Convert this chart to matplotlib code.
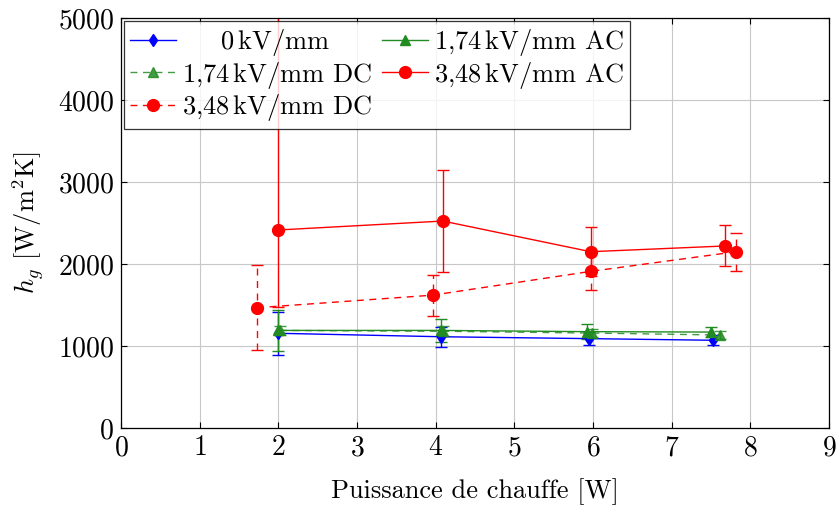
import numpy as np
import matplotlib
matplotlib.use("Agg")
import matplotlib.pyplot as plt

plt.rcParams['font.family'] = 'serif'
plt.rcParams['font.serif'] = ['cmr10']
plt.rcParams['mathtext.fontset'] = 'cm'
plt.rcParams['axes.formatter.use_mathtext'] = True

# data
x_0 = [2.0, 4.07, 5.95, 7.52]
y_0 = [1155, 1113, 1090, 1070]
e_0 = [260, 120, 80, 60]

x_ac174 = [2.0, 4.07, 5.92, 7.5]
y_ac174 = [1190, 1190, 1175, 1170]
e_ac174 = [250, 140, 90, 60]

x_dc174 = [2.02, 4.09, 5.99, 7.62]
y_dc174 = [1190, 1180, 1158, 1134]
e_dc174 = [60, 60, 50, 50]

x_ac348 = [2.0, 4.09, 5.97, 7.68]
y_ac348 = [2415, 2524, 2150, 2220]
e_ac348_lo = [935, 620, 300, 250]
e_ac348_hi = [3000, 620, 305, 250]

x_dc348 = [1.73, 3.96, 5.97, 7.82]
y_dc348 = [1467, 1620, 1910, 2150]
e_dc348 = [515, 250, 230, 230]

labels = [r'$\;\;\;\;\;\;$0$\,$kV/mm', '1,74$\\,$kV/mm DC', '3,48$\\,$kV/mm DC',
          '1,74$\\,$kV/mm AC', '3,48$\\,$kV/mm AC']

fig = plt.figure(figsize=(8.38, 5.07), dpi=100)
ax = fig.add_axes([0.1444, 0.1558, 0.8449, 0.8087])

green = '#228b22'
handles = []
h = ax.errorbar(x_0, y_0, yerr=e_0, color='blue', marker='d', ms=6, lw=1,
                capsize=4, elinewidth=1)
handles.append(h)
h = ax.errorbar(x_dc174, y_dc174, yerr=e_dc174, color=green, marker='^', ms=7, lw=1,
                ls=(0, (5, 4)), capsize=4, elinewidth=1, alpha=0.85)
h[2][0].set_linestyle((0, (5, 4)))
handles.append(h)
h = ax.errorbar(x_dc348, y_dc348, yerr=e_dc348, color='red', marker='o', ms=8.5, lw=1,
                ls=(0, (5, 4)), capsize=4, elinewidth=1)
h[2][0].set_linestyle((0, (5, 4)))
handles.append(h)
h = ax.errorbar(x_ac174, y_ac174, yerr=e_ac174, color=green, marker='^', ms=7, lw=1,
                capsize=4, elinewidth=1)
handles.append(h)
h = ax.errorbar(x_ac348, y_ac348, yerr=[e_ac348_lo, e_ac348_hi], color='red', marker='o',
                ms=8.5, lw=1, capsize=4, elinewidth=1)
handles.append(h)

ax.set_xlim(0, 9)
ax.set_ylim(0, 5000)
ax.set_xticks(range(10))
ax.set_yticks(range(0, 5001, 1000))
ax.grid(True, color='#c8c8c8', lw=0.8)
ax.set_axisbelow(True)
ax.tick_params(direction='in', top=True, right=True, labelsize=20, length=4, pad=5)
for s in ax.spines.values():
    s.set_linewidth(0.9)

ax.set_xlabel('Puissance de chauffe [W]', fontsize=19, labelpad=12)
ax.set_ylabel(r'$h_g$ [W/m$^2$K]', fontsize=19, labelpad=8)

leg = ax.legend([hh[0] for hh in handles], labels, ncol=2, loc='upper left',
                fontsize=19, frameon=True, fancybox=False, edgecolor='black',
                borderaxespad=0.1, handlelength=1.75, columnspacing=0.4,
                labelspacing=0.05, borderpad=0.25, handletextpad=0.2)
leg.get_frame().set_linewidth(0.9)

fig.savefig('out.png', dpi=100)
